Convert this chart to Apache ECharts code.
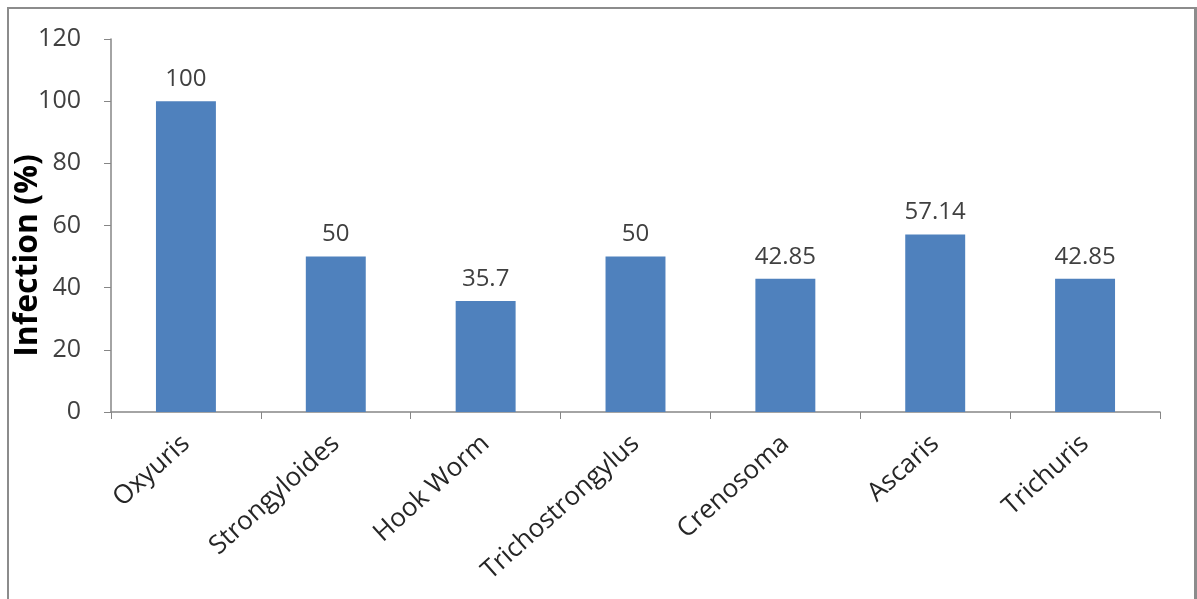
<!DOCTYPE html>
<html>
<head>
<meta charset="utf-8">
<script src="https://cdn.jsdelivr.net/npm/echarts@6/dist/echarts.min.js"></script>
<style>
    html,body{margin:0;padding:0;background:#fff;}
    #frame{position:absolute;left:7px;top:7px;width:1185px;height:600px;border-top:2px solid #8c8c8c;border-left:2px solid #8c8c8c;border-right:3px solid #8c8c8c;}
    #infection{position:absolute;left:0;top:0;width:1197px;height:599px;}
</style>
</head>
<body>
<div id="frame"></div>
<div id="infection"></div>
<script>
// 寄生虫种类
var parasites = ["Oxyuris", "Strongyloides", "Hook Worm", "Trichostrongylus", "Crenosoma", "Ascaris", "Trichuris"];
// 感染率 (%)
var infectionRate = [100, 50, 35.7, 50, 42.85, 57.14, 42.85];
// y轴刻度
var yTicks = {min: 0, max: 120, step: 20};

var chart = echarts.init(document.getElementById("infection"));
var option = {
    animation: false,
    grid: {left: 111, right: 37, top: 39, bottom: 187, outerBoundsMode: "none"},
    xAxis: {
        type: "category",
        data: parasites,
        axisLine: {lineStyle: {color: "#868686", width: 1.5}},
        axisTick: {show: true, length: 7, lineStyle: {color: "#868686"}},
        axisLabel: {
            interval: 0,
            rotate: 42,
            margin: 28,
            fontFamily: "Open Sans",
            fontSize: 26,
            color: "#262626"
        }
    },
    yAxis: {
        type: "value",
        min: yTicks.min,
        max: yTicks.max,
        interval: yTicks.step,
        name: "Infection (%)",
        nameLocation: "middle",
        nameGap: 67,
        nameMoveOverlap: false,
        nameTextStyle: {fontFamily: "Open Sans", fontWeight: "bold", fontSize: 32, color: "#000", padding: [0, 60, 0, 0]},
        splitLine: {show: false},
        axisLine: {show: true, lineStyle: {color: "#868686", width: 1.5}},
        axisTick: {show: true, length: 7, lineStyle: {color: "#868686"}},
        axisLabel: {margin: 30, fontFamily: "Open Sans", fontSize: 25, color: "#404040"}
    },
    series: [{
        type: "bar",
        data: infectionRate,
        barCategoryGap: "60%",
        itemStyle: {color: "#4F81BD"},
        label: {
            show: true,
            position: "top",
            distance: 10,
            fontFamily: "Open Sans",
            fontSize: 24,
            color: "#404040"
        }
    }]
};
chart.setOption(option);
</script>
</body>
</html>
